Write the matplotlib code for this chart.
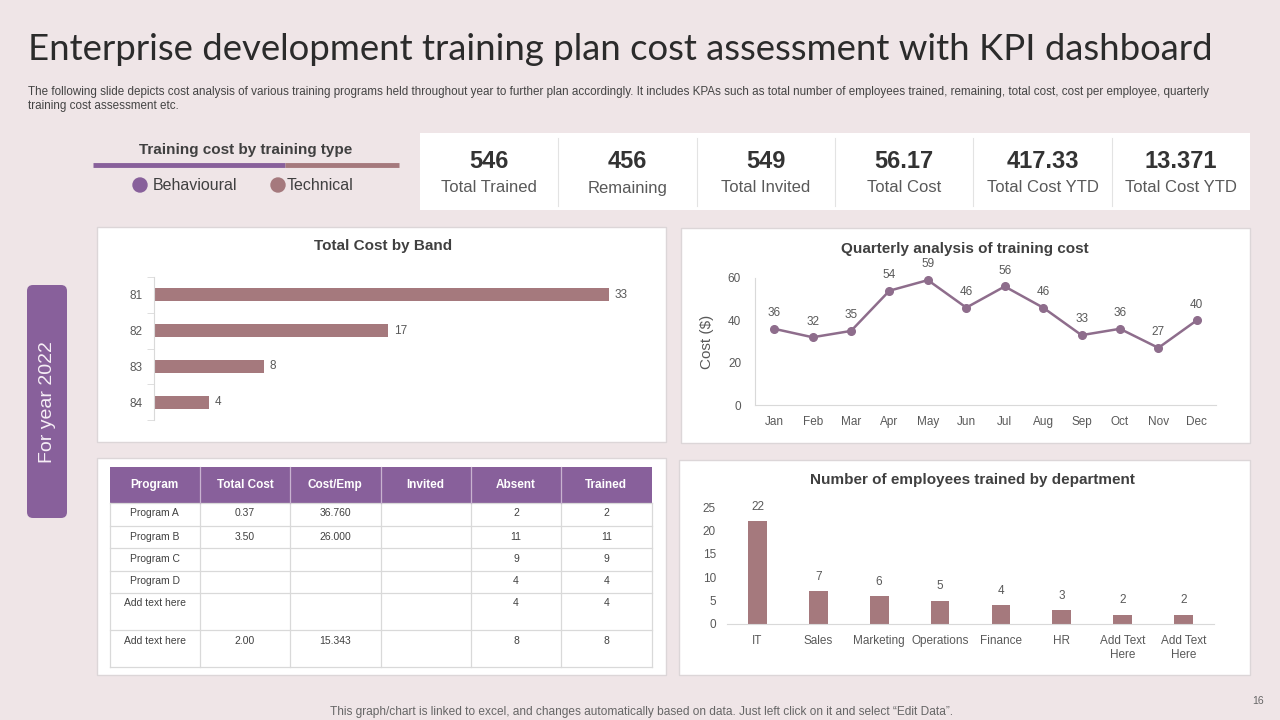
import numpy as np
import matplotlib
matplotlib.use('Agg')
import matplotlib.pyplot as plt
from matplotlib.patches import Rectangle, FancyBboxPatch, Circle

# ---- data ----
kpi_values = ['546', '456', '549', '56.17', '417.33', '13.371']
kpi_labels = ['Total Trained', 'Remaining', 'Total Invited', 'Total Cost',
              'Total Cost YTD', 'Total Cost YTD']

bands = ['81', '82', '83', '84']
band_cost = [33, 17, 8, 4]

months = ['Jan', 'Feb', 'Mar', 'Apr', 'May', 'Jun', 'Jul', 'Aug', 'Sep', 'Oct', 'Nov', 'Dec']
monthly_cost = [36, 32, 35, 54, 59, 46, 56, 46, 33, 36, 27, 40]

departments = ['IT', 'Sales', 'Marketing', 'Operations', 'Finance', 'HR',
               'Add Text\nHere', 'Add Text\nHere']
dept_trained = [22, 7, 6, 5, 4, 3, 2, 2]

table_cols = ['Program', 'Total Cost', 'Cost/Emp', 'Invited', 'Absent', 'Trained']
table_rows = [
    ['Program A', '0.37', '36.760', '', '2', '2'],
    ['Program B', '3.50', '26.000', '', '11', '11'],
    ['Program C', '', '', '', '9', '9'],
    ['Program D', '', '', '', '4', '4'],
    ['Add text here', '', '', '', '4', '4'],
    ['Add text here', '2.00', '15.343', '', '8', '8'],
]

# ---- style ----
W, H = 1280, 720
BG = '#EFE5E7'
PURPLE = '#88609B'
MAUVE = '#A5797D'
LINEC = '#8E6D8C'
TXT = '#404040'
TICK = '#595959'
GRID = '#D9D9D9'

plt.rcParams['font.family'] = ['Liberation Sans', 'DejaVu Sans']

fig = plt.figure(figsize=(12.8, 7.2), dpi=100, facecolor=BG)

# full-figure axes in pixel coordinates for the slide decoration
bg = fig.add_axes([0, 0, 1, 1], zorder=0)
bg.set_xlim(0, W)
bg.set_ylim(H, 0)
bg.axis('off')


def px_axes(x0, y0, x1, y1):
    a = fig.add_axes([x0 / W, 1 - y1 / H, (x1 - x0) / W, (y1 - y0) / H], zorder=2)
    a.set_facecolor('none')
    return a


def panel(x0, y0, x1, y1):
    bg.add_patch(Rectangle((x0, y0), x1 - x0, y1 - y0, facecolor='white',
                           edgecolor='#DCD6D8', lw=1))


def style_axes(a):
    for s in ['top', 'right']:
        a.spines[s].set_visible(False)
    for s in ['left', 'bottom']:
        a.spines[s].set_color(GRID)
    a.tick_params(length=0, colors=TICK, labelsize=8.5)


# ---- title & subtitle ----
bg.text(28, 50, 'Enterprise development training plan cost assessment with KPI dashboard',
        fontsize=26.3, color='#2B2B2B', va='center', ha='left',
        family=['Lato', 'DejaVu Sans'])
bg.text(28, 92, 'The following slide depicts cost analysis of various training programs held throughout year to further plan accordingly. '
        'It includes KPAs such as total number of employees trained, remaining, total cost, cost per employee, quarterly',
        fontsize=8.4, color='#444444', va='center', ha='left')
bg.text(28, 106, 'training cost assessment etc.', fontsize=8.4, color='#444444', va='center', ha='left')

# ---- training type legend ----
bg.text(246, 150, 'Training cost by training type', fontsize=11, fontweight='bold',
        color=TXT, ha='center', va='center')
bg.plot([93, 285], [165, 165], color=PURPLE, lw=3.5, solid_capstyle='butt')
bg.plot([285, 399], [165, 165], color=MAUVE, lw=3.5, solid_capstyle='butt')
bg.add_patch(Circle((140, 185), 7, color=PURPLE))
bg.text(153, 186, 'Behavioural', fontsize=11.5, color=TXT, va='center')
bg.add_patch(Circle((278, 185), 7, color=MAUVE))
bg.text(287, 186, 'Technical', fontsize=11.5, color=TXT, va='center')

# ---- KPI strip ----
bg.add_patch(Rectangle((420, 133), 830, 77, facecolor='white', edgecolor='none'))
cell = 830 / len(kpi_values)
for i, (v, lab) in enumerate(zip(kpi_values, kpi_labels)):
    cx = 420 + cell * (i + 0.5)
    bg.text(cx, 162, v, fontsize=17, fontweight='bold', color='#333333', ha='center', va='center')
    bg.text(cx, 188, lab, fontsize=12, color='#595959', ha='center', va='center')
    if i > 0:
        bg.plot([420 + cell * i] * 2, [138, 206], color='#E3E3E3', lw=0.8)

# ---- side tag ----
bg.add_patch(FancyBboxPatch((27, 285), 40, 233, boxstyle='round,pad=0,rounding_size=6',
                            facecolor=PURPLE, edgecolor='none'))
bg.text(47, 402, 'For year 2022', rotation=90, fontsize=14, color='#F6EEF6',
        ha='center', va='center')

# ---- panels ----
panel(97, 227, 666, 442)
panel(681, 228, 1250, 443)
panel(97, 458, 666, 675)
panel(679, 460, 1250, 675)

# ---- Total Cost by Band ----
bg.text(383, 246, 'Total Cost by Band', fontsize=11, fontweight='bold', color=TXT,
        ha='center', va='center')
ax1 = px_axes(154, 277, 609, 420)
yb = np.arange(len(bands))
ax1.barh(yb, band_cost, height=0.36, color=MAUVE)
ax1.set_ylim(len(bands) - 0.5, -0.5)
ax1.set_xlim(0, max(band_cost))
ax1.set_yticks(yb)
ax1.set_yticklabels(bands)
ax1.set_xticks([])
style_axes(ax1)
ax1.spines['bottom'].set_visible(False)
ax1.set_yticks(np.arange(-0.5, len(bands)), minor=True)
ax1.tick_params(axis='y', which='minor', length=5, color=GRID)
ax1.tick_params(axis='y', which='major', pad=8)
for y, v in zip(yb, band_cost):
    ax1.annotate(str(v), (v, y), xytext=(4, 0), textcoords='offset points',
                 ha='left', va='center', fontsize=8.5, color=TICK, annotation_clip=False)

# ---- Quarterly analysis ----
bg.text(965, 249, 'Quarterly analysis of training cost', fontsize=11, fontweight='bold',
        color=TXT, ha='center', va='center')
ax2 = px_axes(755, 278, 1216, 405)
xm = np.arange(len(months))
ax2.plot(xm, monthly_cost, color=LINEC, lw=1.8, marker='o', ms=5.5, clip_on=False)
ax2.set_xlim(-0.5, len(months) - 0.5)
ax2.set_ylim(0, 60)
ax2.set_yticks([0, 20, 40, 60])
ax2.set_xticks(xm)
ax2.set_xticklabels(months)
style_axes(ax2)
ax2.tick_params(axis='x', pad=8)
ax2.tick_params(axis='y', pad=10)
ax2.set_ylabel('Cost ($)', fontsize=11, color=TICK, labelpad=10)
for x, v in zip(xm, monthly_cost):
    ax2.annotate(str(v), (x, v), xytext=(0, 7), textcoords='offset points',
                 ha='center', va='bottom', fontsize=8.5, color=TICK, annotation_clip=False)

# ---- Table ----
col_edges = np.linspace(109.5, 651.5, len(table_cols) + 1)
row_edges = [467, 503, 526, 548, 571, 593, 630, 667]
bg.add_patch(Rectangle((col_edges[0], row_edges[0]), col_edges[-1] - col_edges[0],
                       row_edges[1] - row_edges[0], facecolor=PURPLE, edgecolor='none'))
for j, name in enumerate(table_cols):
    cx = (col_edges[j] + col_edges[j + 1]) / 2
    bg.text(cx, 485, name, fontsize=8.5, fontweight='bold', color='white', ha='center', va='center')
for i, row in enumerate(table_rows):
    top = row_edges[i + 1]
    for j, val in enumerate(row):
        cx = (col_edges[j] + col_edges[j + 1]) / 2
        bg.text(cx, top + 10.5, val, fontsize=7.5, color='#404040', ha='center', va='center')
for r in row_edges[1:]:
    bg.plot([col_edges[0], col_edges[-1]], [r, r], color=GRID, lw=0.9)
for c in col_edges:
    bg.plot([c, c], [row_edges[1], row_edges[-1]], color=GRID, lw=0.9)
for c in col_edges[1:-1]:
    bg.plot([c, c], [row_edges[0], row_edges[1]], color='#C8B3D0', lw=0.9)

# ---- Employees trained by department ----
bg.text(972, 480, 'Number of employees trained by department', fontsize=11, fontweight='bold',
        color=TXT, ha='center', va='center')
ax3 = px_axes(727, 507, 1214, 624)
xd = np.arange(len(departments))
ax3.bar(xd, dept_trained, width=0.31, color=MAUVE)
ax3.set_xlim(-0.5, len(departments) - 0.5)
ax3.set_ylim(0, 25)
ax3.set_yticks(range(0, 26, 5))
ax3.set_xticks(xd)
ax3.set_xticklabels(departments, linespacing=1.2)
style_axes(ax3)
ax3.spines['left'].set_visible(False)
ax3.tick_params(axis='x', pad=8)
ax3.tick_params(axis='y', pad=8)
for x, v in zip(xd, dept_trained):
    ax3.annotate(str(v), (x, v), xytext=(0, 6), textcoords='offset points',
                 ha='center', va='bottom', fontsize=8.5, color=TICK)

# ---- footer ----
bg.text(641, 712, 'This graph/chart is linked to excel, and changes automatically based on data. '
        'Just left click on it and select \u201cEdit Data\u201d.', fontsize=8.6, color='#666666',
        ha='center', va='center')
bg.text(1258, 701, '16', fontsize=7.5, color='#666666', ha='center', va='center')

fig.savefig('out.png', dpi=100, facecolor=BG)
